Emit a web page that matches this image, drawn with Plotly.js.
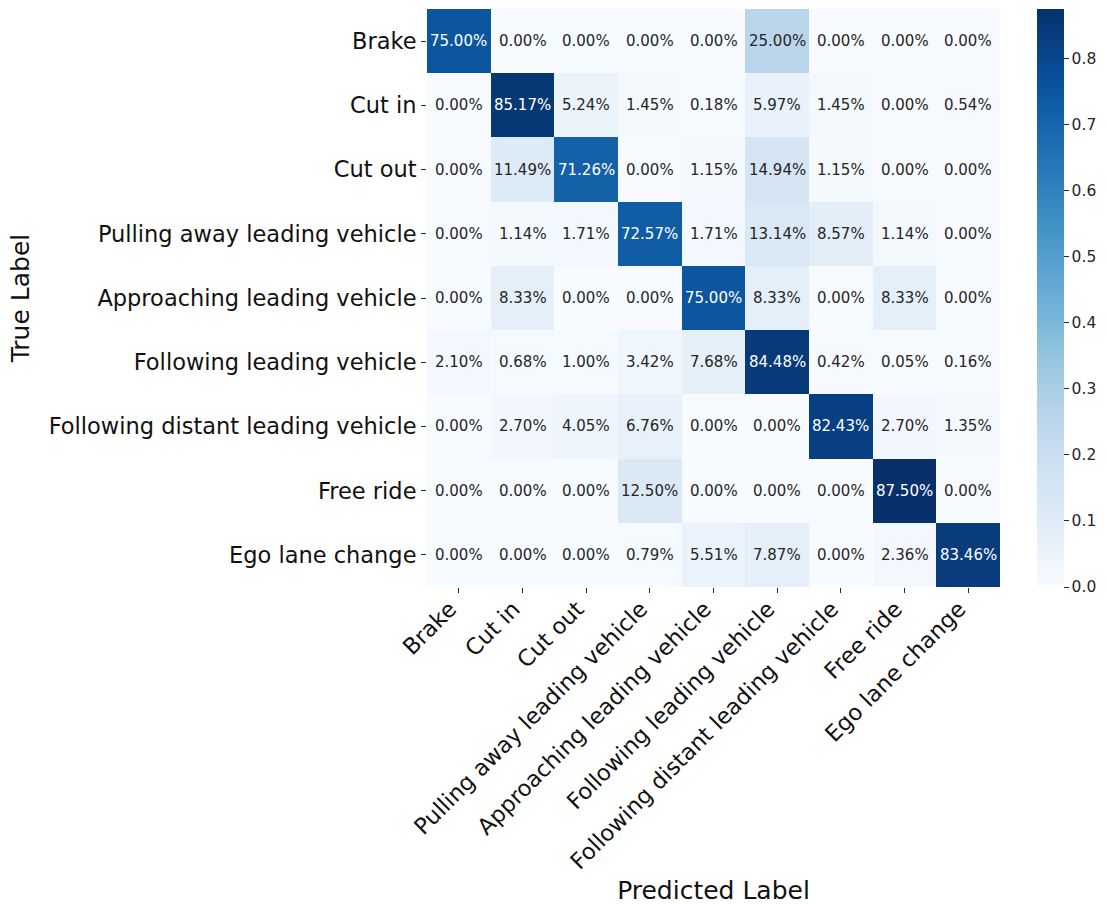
<!DOCTYPE html>
<html>
<head>
<meta charset="utf-8">
<script src="https://cdn.plot.ly/plotly-3.0.1.min.js"></script>
<style>
  html, body { margin: 0; padding: 0; background: #ffffff; }
  #chart { width: 1107px; height: 905px; }
</style>
</head>
<body>
<div id="chart"></div>
<script>
// Class names, shared by both axes
const classes = [
  "Brake",
  "Cut in",
  "Cut out",
  "Pulling away leading vehicle",
  "Approaching leading vehicle",
  "Following leading vehicle",
  "Following distant leading vehicle",
  "Free ride",
  "Ego lane change"
];

// Row-normalised confusion matrix, in percent (rows = true class)
const rowBrake          = [75.00, 0.00, 0.00, 0.00, 0.00, 25.00, 0.00, 0.00, 0.00];
const rowCutIn          = [0.00, 85.17, 5.24, 1.45, 0.18, 5.97, 1.45, 0.00, 0.54];
const rowCutOut         = [0.00, 11.49, 71.26, 0.00, 1.15, 14.94, 1.15, 0.00, 0.00];
const rowPullingAway    = [0.00, 1.14, 1.71, 72.57, 1.71, 13.14, 8.57, 1.14, 0.00];
const rowApproaching    = [0.00, 8.33, 0.00, 0.00, 75.00, 8.33, 0.00, 8.33, 0.00];
const rowFollowing      = [2.10, 0.68, 1.00, 3.42, 7.68, 84.48, 0.42, 0.05, 0.16];
const rowFollowingFar   = [0.00, 2.70, 4.05, 6.76, 0.00, 0.00, 82.43, 2.70, 1.35];
const rowFreeRide       = [0.00, 0.00, 0.00, 12.50, 0.00, 0.00, 0.00, 87.50, 0.00];
const rowEgoLaneChange  = [0.00, 0.00, 0.00, 0.79, 5.51, 7.87, 0.00, 2.36, 83.46];

const percentRows = [
  rowBrake, rowCutIn, rowCutOut, rowPullingAway, rowApproaching,
  rowFollowing, rowFollowingFar, rowFreeRide, rowEgoLaneChange
];

// Colourbar ticks
const cbarTicks = [0.0, 0.1, 0.2, 0.3, 0.4, 0.5, 0.6, 0.7, 0.8];

// Fractions drive the colour scale
const z = percentRows.map(r => r.map(v => v / 100));
const zMax = Math.max(...z.flat());

// Sequential blue scale
const bluesStops = ["#f7fbff", "#deebf7", "#c6dbef", "#9ecae1", "#6baed6",
                    "#4292c6", "#2171b5", "#08519c", "#08306b"];
const blues = bluesStops.map((c, i) => [i / (bluesStops.length - 1), c]);

const inkColor = "#262626";

const heat = {
  type: "heatmap",
  x: classes,
  y: classes,
  z: z,
  zmin: 0,
  zmax: zMax,
  colorscale: blues,
  showscale: true,
  hoverinfo: "skip",
  colorbar: {
    x: 1.0646, xanchor: "left", xpad: 0,
    y: 0.5, yanchor: "middle", ypad: 0,
    len: 1, lenmode: "fraction",
    thickness: 27,
    outlinewidth: 0,
    tickvals: cbarTicks,
    ticktext: cbarTicks.map(v => v.toFixed(1)),
    ticks: "outside", ticklen: 5, tickwidth: 1, tickcolor: inkColor,
    tickfont: { family: "DejaVu Sans", size: 15.5, color: inkColor }
  }
};

// Cell labels: light text on dark cells, dark text on light cells
const annotations = [];
percentRows.forEach((row, i) => {
  row.forEach((v, j) => {
    annotations.push({
      x: classes[j], y: classes[i], xref: "x", yref: "y",
      text: v.toFixed(2) + "%",
      showarrow: false,
      font: { family: "DejaVu Sans", size: 15, color: (v / 100) > 0.4 ? "#ffffff" : inkColor }
    });
  });
});

const layout = {
  width: 1107,
  height: 905,
  paper_bgcolor: "#ffffff",
  plot_bgcolor: "#ffffff",
  margin: { l: 427, r: 107, t: 9, b: 318 },
  xaxis: {
    type: "category",
    tickangle: -45,
    ticklabelshift: -9,
    ticklabelstandoff: -6,
    ticks: "outside", ticklen: 5, tickwidth: 1, tickcolor: inkColor,
    tickfont: { family: "DejaVu Sans", size: 22.5, color: "#111111" },
    showgrid: false, zeroline: false, showline: false,
    automargin: false,
    title: { text: "Predicted Label", font: { family: "DejaVu Sans", size: 25, color: "#111111" }, standoff: 15 }
  },
  yaxis: {
    type: "category",
    autorange: "reversed",
    ticks: "outside", ticklen: 5, tickwidth: 1, tickcolor: inkColor,
    tickfont: { family: "DejaVu Sans", size: 22.5, color: "#111111" },
    showgrid: false, zeroline: false, showline: false,
    automargin: false,
    title: { text: "True Label", font: { family: "DejaVu Sans", size: 25, color: "#111111" }, standoff: 11 }
  },
  annotations: annotations
};

Plotly.newPlot("chart", [heat], layout, { displayModeBar: false, staticPlot: true });
</script>
</body>
</html>
